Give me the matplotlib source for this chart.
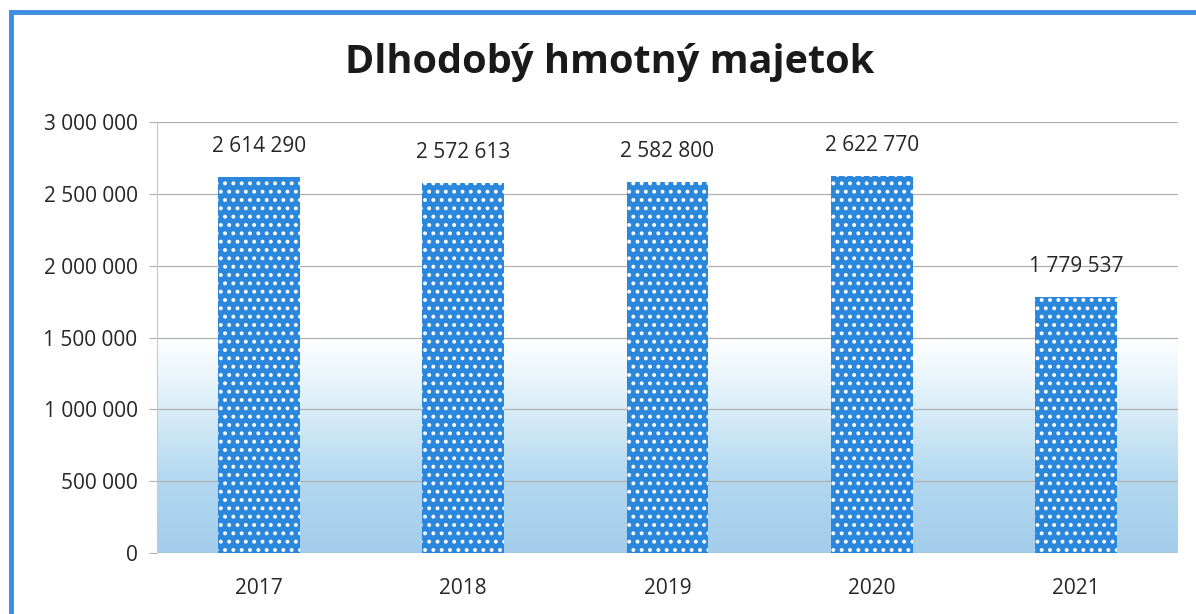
import numpy as np
import matplotlib
matplotlib.use("Agg")
import matplotlib.pyplot as plt
from matplotlib.colors import LinearSegmentedColormap
from matplotlib.ticker import FuncFormatter

years = ["2017", "2018", "2019", "2020", "2021"]
values = [2614290, 2572613, 2582800, 2622770, 1779537]
title = "Dlhodobý hmotný majetok"

BAR = "#2B87DC"
BORDER = "#3B8EE0"
TXT = "#262626"

plt.rcParams["font.family"] = ["Open Sans", "DejaVu Sans"]
plt.rcParams["hatch.linewidth"] = 1.6


def spaced(v, _=None):
    return f"{int(v):,}".replace(",", " ")


fig = plt.figure(figsize=(11.96, 6.14), dpi=100)
ax = fig.add_axes([157 / 1196, 61 / 614, 1021 / 1196, 431 / 614])

x = np.arange(len(years))
ax.set_xlim(-0.5, len(years) - 0.5)
ax.set_ylim(0, 3000000)

# soft blue gradient behind the bars
cmap = LinearSegmentedColormap.from_list(
    "bg", [(0, "#A3CDEB"), (0.17, "#B3D8F0"), (0.33, "#D8EDF8"), (0.5, "#FFFFFF"), (1, "#FFFFFF")])
grad = np.linspace(0, 1, 256).reshape(-1, 1)
ax.imshow(grad, cmap=cmap, aspect="auto", origin="lower",
          extent=[-0.5, len(years) - 0.5, 0, 3000000], zorder=0)

ax.yaxis.grid(True, color="#B0B0B0", lw=0.9, zorder=1)
ax.set_axisbelow(True)

bars = ax.bar(x, values, width=0.4, color=BAR, edgecolor="white", linewidth=0,
              hatch="..", zorder=3)
for xi, v in zip(x, values):
    ax.text(xi, v + 140000, spaced(v), ha="center", va="bottom", fontsize=15,
            color=TXT, zorder=4)

ax.set_xticks(x)
ax.set_xticklabels(years)
ax.yaxis.set_major_formatter(FuncFormatter(spaced))
ax.set_yticks(np.arange(0, 3000001, 500000))
ax.tick_params(axis="y", labelsize=15, colors="#B0B0B0", labelcolor=TXT, length=6, pad=8)
ax.tick_params(axis="x", labelsize=15, labelcolor=TXT, length=0, pad=18)
for s in ["top", "right", "bottom"]:
    ax.spines[s].set_visible(False)
ax.spines["left"].set_color("#C8C8C8")

fig.text(610 / 1196, 1 - 63 / 614, title, ha="center", va="center",
         fontsize=28.5, fontweight="bold", color="#1A1A1A")

# blue frame (left and top edges visible)
fig.add_artist(plt.Line2D([11 / 1196, 11 / 1196], [0, 1 - 12 / 614],
                          transform=fig.transFigure, color=BORDER, lw=3.5))
fig.add_artist(plt.Line2D([11 / 1196, 1], [1 - 12 / 614, 1 - 12 / 614],
                          transform=fig.transFigure, color=BORDER, lw=3.5))

fig.savefig("out.png", dpi=100)
